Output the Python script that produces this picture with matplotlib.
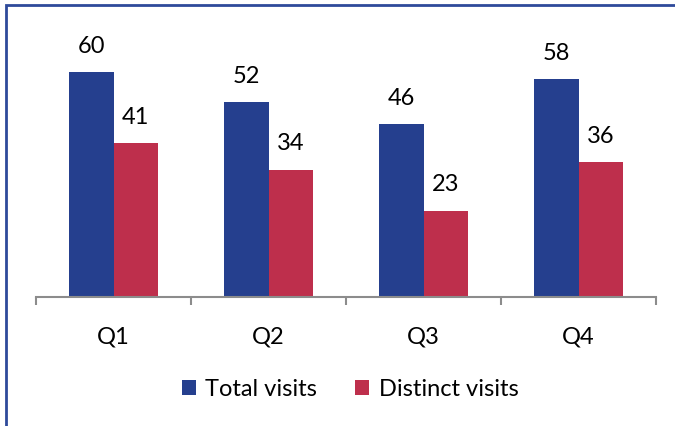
import numpy as np
import matplotlib
matplotlib.use('Agg')
import matplotlib.pyplot as plt
from matplotlib.patches import Rectangle

plt.rcParams['font.family'] = ['Lato', 'DejaVu Sans']

quarters = ['Q1', 'Q2', 'Q3', 'Q4']
total_visits = [60, 52, 46, 58]
distinct_visits = [41, 34, 23, 36]

blue = '#253F8E'
red = '#BE2F4C'
fontsize = 17

fig = plt.figure(figsize=[6.75, 4.26], dpi=100)
ax = fig.add_axes([36 / 675, 1 - 297 / 426, 620 / 675, 281.25 / 426])

x = np.arange(len(quarters))
width = 0.285
h1 = ax.bar(x - width / 2, total_visits, width, color=blue, label='Total visits')
h2 = ax.bar(x + width / 2, distinct_visits, width, color=red, label='Distinct visits')

for bars, vals in [(h1, total_visits), (h2, distinct_visits)]:
    for b, v in zip(bars, vals):
        ax.annotate(str(v), (b.get_x() + b.get_width() / 2, b.get_height()),
                    xytext=(0, 11), textcoords='offset points',
                    ha='center', va='bottom', fontsize=fontsize)

ax.set_xlim(-0.5, len(quarters) - 0.5)
ax.set_ylim(0, 75)
ax.set_yticks([])
for s in ['top', 'right', 'left']:
    ax.spines[s].set_visible(False)
ax.spines['bottom'].set_color('#8C8C8C')
ax.spines['bottom'].set_linewidth(1.5)

ax.set_xticks(x)
ax.set_xticklabels(quarters, fontsize=fontsize)
ax.tick_params(axis='x', which='major', length=0, pad=21)
ax.set_xticks(np.arange(len(quarters) + 1) - 0.5, minor=True)
ax.tick_params(axis='x', which='minor', length=6, width=1.5, color='#8C8C8C')

ax.legend(loc='center', bbox_to_anchor=(350 / 675, 1 - 389 / 426),
          bbox_transform=fig.transFigure, ncol=2, frameon=False,
          fontsize=fontsize, handlelength=0.6, handleheight=0.6,
          handletextpad=0.4, columnspacing=1.6)

# outer frame (right/bottom edges run off the image)
fig.patches.append(Rectangle((6 / 675, -0.05), 1.1, 0.05 + 1 - 5 / 426,
                             transform=fig.transFigure, fill=False,
                             edgecolor='#2E4A9A', linewidth=2))

fig.savefig('out.png', dpi=100)
